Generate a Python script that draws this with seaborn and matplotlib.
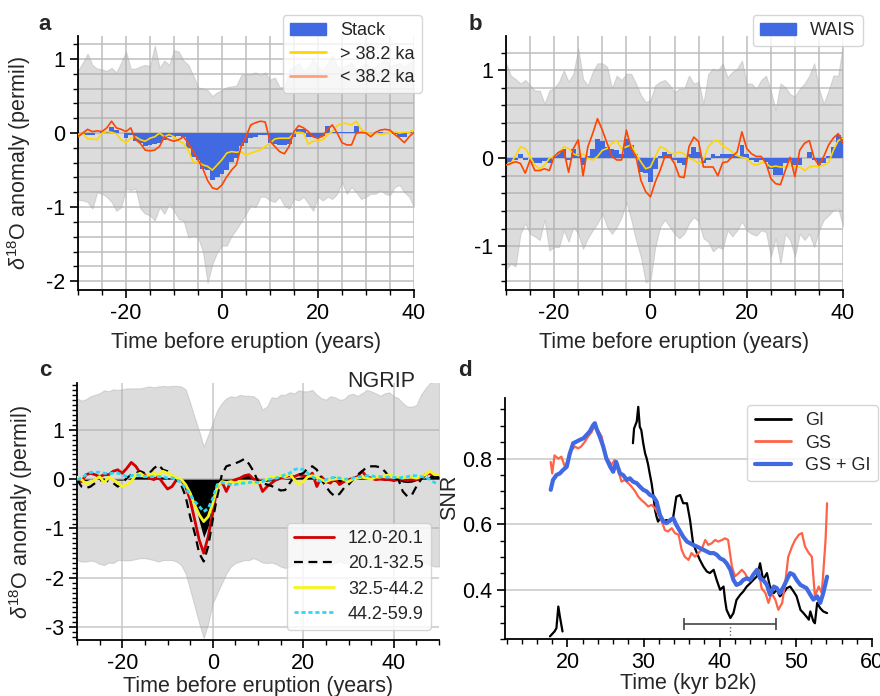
import numpy as np
import matplotlib
matplotlib.use('Agg')
import matplotlib.pyplot as plt
import seaborn as sns
from matplotlib.lines import Line2D
from matplotlib.patches import Patch
from matplotlib.ticker import MultipleLocator

# ---- data: panels a and b (years -30..40) ----
years_ab = list(range(-30, 41))

a_upper = [0.84, 0.95, 1.07, 0.92, 0.87, 0.86, 0.84, 0.88, 0.82, 0.95,
           1.1, 0.87, 0.87, 0.9, 0.92, 0.9, 1.18, 0.88, 0.98, 0.92,
           1.12, 1.1, 0.98, 0.92, 0.78, 0.62, 0.6, 0.58, 0.5, 0.55,
           0.58, 0.62, 0.63, 0.64, 0.78, 0.8, 0.79, 0.82, 0.78, 0.82,
           0.72, 0.75, 0.62, 0.62, 0.85, 0.9, 0.95, 0.85, 0.9, 1.0,
           0.9, 0.85, 0.95, 1.05, 0.9, 0.88, 0.92, 0.95, 0.85, 0.9,
           0.95, 0.88, 0.9, 0.95, 1.0, 0.9, 0.92, 0.95, 0.9, 0.95, 1.0]
a_lower = [-0.9, -0.91, -0.93, -1.02, -0.8, -0.82, -0.86, -0.93, -1.05, -1.0,
           -0.75, -0.77, -0.75, -1.02, -1.09, -1.11, -1.18, -1.0, -1.09, -0.95,
           -1.05, -1.16, -1.18, -1.41, -1.39, -1.41, -1.59, -2.02, -1.77, -1.61,
           -1.52, -1.52, -1.39, -1.3, -1.2, -1.09, -0.98, -1.0, -0.86, -0.86,
           -0.91, -0.93, -0.86, -0.98, -1.02, -0.89, -0.91, -0.86, -0.95, -1.05,
           -0.86, -0.91, -0.86, -0.89, -0.82, -0.66, -0.82, -0.73, -0.8, -0.89,
           -0.86, -0.82, -0.82, -0.77, -0.82, -0.84, -0.73, -0.7, -0.8, -0.86, -1.0]
a_stack = [-0.02, -0.01, -0.03, -0.03, 0.0, 0.01, 0.02, 0.08, 0.04, 0.0,
           -0.07, -0.02, -0.11, -0.14, -0.17, -0.16, -0.15, -0.13, -0.09, -0.06,
           -0.05, -0.04, -0.05, -0.2, -0.32, -0.36, -0.48, -0.5, -0.63, -0.6,
           -0.55, -0.5, -0.39, -0.34, -0.18, -0.14, -0.07, -0.05, -0.03, -0.02,
           -0.14, -0.15, -0.16, -0.16, -0.15, -0.06, 0.05, 0.05, -0.05, -0.05,
           -0.07, -0.04, 0.09, 0.01, 0.01, 0.01, 0.01, 0.01, 0.09, 0.02,
           0.01, 0.0, 0.0, 0.01, 0.0, 0.0, -0.01, -0.05, -0.05, 0.02, 0.0]
a_old = [-0.02, 0.0, -0.08, -0.08, -0.09, 0.0, 0.02, 0.01, -0.01, -0.09,
         -0.13, -0.07, -0.05, -0.09, -0.11, -0.07, -0.05, 0.0, -0.05, -0.02,
         -0.05, -0.11, -0.14, -0.23, -0.39, -0.39, -0.43, -0.45, -0.5, -0.43,
         -0.36, -0.27, -0.25, -0.26, -0.25, -0.3, -0.27, -0.25, -0.23, -0.18,
         -0.14, -0.08, -0.07, -0.07, -0.07, 0.0, 0.01, 0.0, -0.15, -0.11,
         -0.11, -0.09, -0.02, 0.02, 0.1, 0.13, 0.13, 0.11, 0.16, 0.05,
         0.01, -0.02, 0.0, -0.02, -0.01, 0.0, 0.02, 0.0, 0.01, 0.01, 0.05]
a_young = [-0.05, 0.0, 0.05, 0.02, 0.03, 0.02, 0.07, 0.16, 0.07, 0.05,
           0.02, 0.07, -0.09, -0.14, -0.23, -0.24, -0.23, -0.18, -0.05, -0.09,
           -0.11, -0.09, -0.05, -0.14, -0.25, -0.36, -0.48, -0.64, -0.74, -0.76,
           -0.7, -0.59, -0.5, -0.43, -0.18, -0.05, 0.11, 0.14, 0.16, 0.15,
           -0.11, -0.18, -0.25, -0.28, -0.18, 0.02, 0.1, 0.07, 0.02, -0.05,
           -0.07, -0.04, 0.05, 0.11, 0.0, -0.13, -0.16, -0.16, 0.0, 0.01,
           0.0, -0.05, 0.01, 0.04, 0.05, 0.04, -0.02, -0.07, -0.13, -0.05, 0.01]

b_upper = [1.08, 0.94, 0.9, 0.85, 0.89, 0.83, 0.77, 0.77, 0.62, 0.77,
           0.8, 0.87, 1.0, 0.87, 0.96, 1.25, 0.9, 0.83, 0.98, 1.08,
           1.08, 1.04, 0.8, 0.94, 0.89, 0.96, 0.96, 0.85, 0.72, 0.64,
           0.66, 0.83, 0.87, 0.89, 0.83, 0.75, 0.79, 0.79, 0.94, 0.85,
           0.87, 0.62, 0.96, 1.02, 1.0, 1.08, 0.92, 0.98, 1.02, 1.11,
           0.85, 0.85, 0.79, 0.89, 0.94, 0.77, 0.55, 0.85, 0.81, 0.73,
           0.7, 0.79, 0.85, 0.94, 1.08, 0.79, 0.62, 0.77, 0.94, 0.94, 1.3]
b_lower = [-1.27, -1.2, -1.23, -0.86, -0.74, -0.86, -0.89, -0.93, -0.7, -1.05,
           -1.01, -1.01, -0.82, -0.95, -0.78, -0.86, -1.03, -0.91, -0.82, -0.74,
           -0.63, -0.78, -0.86, -0.78, -0.67, -0.5, -0.7, -0.93, -1.12, -1.41,
           -1.39, -1.01, -0.78, -0.7, -0.78, -0.86, -0.91, -0.86, -0.74, -0.67,
           -0.72, -0.91, -0.95, -1.06, -1.01, -1.03, -0.82, -0.89, -0.82, -0.72,
           -0.82, -0.86, -0.88, -0.82, -0.84, -1.12, -0.91, -1.2, -0.86, -0.93,
           -1.12, -0.86, -0.93, -0.86, -1.01, -0.82, -0.7, -0.65, -0.59, -0.57, -0.78]
b_wais = [-0.06, -0.04, -0.02, 0.05, -0.02, 0.0, -0.06, -0.06, -0.03, -0.05,
          0.02, 0.07, 0.1, -0.02, 0.11, 0.05, -0.08, 0.02, 0.11, 0.22,
          0.2, 0.13, 0.1, 0.09, 0.05, 0.22, 0.15, 0.05, -0.16, -0.17,
          -0.27, -0.12, 0.02, 0.07, 0.05, -0.02, -0.06, -0.08, 0.05, 0.13,
          0.07, -0.06, -0.02, 0.05, 0.02, 0.05, 0.05, 0.05, 0.03, 0.15,
          0.05, -0.02, -0.04, -0.02, -0.04, -0.12, -0.19, -0.19, -0.06, -0.02,
          -0.08, -0.08, 0.0, 0.07, -0.02, -0.08, -0.06, 0.02, 0.13, 0.26, 0.24]
b_young = [-0.08, -0.06, -0.04, -0.06, -0.17, -0.02, -0.14, -0.14, -0.12, -0.14,
           0.02, 0.07, 0.09, -0.16, 0.11, 0.21, -0.2, 0.13, 0.28, 0.45,
           0.32, 0.17, 0.02, -0.02, -0.02, 0.32, 0.11, 0.02, -0.25, -0.38,
           -0.44, -0.27, -0.14, 0.02, 0.02, -0.06, -0.21, -0.22, 0.13, 0.24,
           0.19, -0.1, -0.1, -0.1, -0.2, -0.05, -0.04, 0.02, 0.07, 0.3,
           0.11, 0.05, 0.02, 0.02, -0.06, -0.23, -0.29, -0.3, -0.14, 0.01,
           -0.21, 0.09, 0.17, 0.2, 0.0, -0.08, 0.02, 0.15, 0.23, 0.28, 0.17]
b_old = [-0.08, -0.06, 0.03, 0.13, 0.11, 0.02, -0.08, -0.12, -0.08, 0.0,
         0.02, 0.06, 0.13, 0.11, 0.05, 0.03, 0.05, 0.0, -0.02, 0.02,
         0.09, 0.11, 0.17, 0.2, 0.11, 0.13, 0.15, 0.05, -0.04, -0.12,
         -0.1, 0.02, 0.13, 0.11, 0.06, 0.05, 0.07, 0.05, 0.0, -0.02,
         -0.06, -0.02, 0.13, 0.19, 0.2, 0.14, 0.11, 0.07, 0.03, 0.01,
         0.0, -0.06, -0.08, -0.05, -0.06, -0.1, -0.09, -0.1, -0.1, -0.08,
         -0.1, -0.1, -0.14, -0.1, -0.09, -0.09, -0.08, -0.05, 0.09, 0.2, 0.23]

# ---- data: panel c, NGRIP (years -30..50) ----
years_c = list(range(-30, 51))
c_upper = [1.64, 1.59, 1.62, 1.68, 1.71, 1.74, 1.8, 1.78, 1.82, 1.81,
           1.82, 1.84, 1.84, 1.84, 1.84, 1.86, 1.88, 1.86, 1.88, 1.89,
           1.88, 1.89, 1.89, 1.88, 1.82, 1.55, 1.25, 0.97, 0.66, 0.9,
           1.15, 1.4, 1.54, 1.64, 1.68, 1.66, 1.71, 1.69, 1.69, 1.68,
           1.61, 1.41, 1.47, 1.66, 1.64, 1.71, 1.71, 1.76, 1.74, 1.8,
           1.78, 1.78, 1.81, 1.71, 1.64, 1.61, 1.68, 1.66, 1.61, 1.62,
           1.71, 1.73, 1.69, 1.74, 1.81, 1.78, 1.74, 1.69, 1.74, 1.76,
           1.68, 1.64, 1.54, 1.47, 1.47, 1.5, 1.71, 1.84, 1.95, 1.98, 1.98]
c_lower = [-1.64, -1.67, -1.67, -1.65, -1.67, -1.72, -1.74, -1.69, -1.7, -1.64,
           -1.64, -1.65, -1.64, -1.62, -1.6, -1.6, -1.62, -1.64, -1.67, -1.64,
           -1.64, -1.64, -1.67, -1.74, -1.91, -2.24, -2.58, -2.92, -3.22, -2.92,
           -2.51, -2.31, -2.11, -1.91, -1.77, -1.7, -1.67, -1.64, -1.64, -1.6,
           -1.64, -1.69, -1.7, -1.69, -1.72, -1.77, -1.8, -1.77, -1.74, -1.72,
           -1.7, -1.73, -1.75, -1.7, -1.68, -1.72, -1.75, -1.7, -1.66, -1.7,
           -1.72, -1.68, -1.7, -1.74, -1.7, -1.68, -1.72, -1.75, -1.7, -1.68,
           -1.7, -1.73, -1.7, -1.68, -1.72, -1.75, -1.72, -1.7, -1.74, -1.77, -1.77]
c_stack = [-0.02, -0.03, -0.03, 0.0, 0.02, 0.02, 0.01, 0.0, 0.0, -0.02,
           -0.02, 0.0, 0.03, 0.05, 0.05, 0.04, 0.05, 0.05, 0.06, 0.04,
           0.03, 0.02, -0.02, -0.05, -0.12, -0.3, -0.5, -0.85, -1.18, -0.95,
           -0.45, -0.1, -0.02, -0.04, -0.04, -0.03, 0.02, 0.07, 0.08, 0.02,
           -0.02, -0.05, -0.04, -0.03, -0.02, 0.0, 0.01, 0.02, 0.02, 0.04,
           0.05, 0.06, 0.04, 0.0, -0.01, -0.02, -0.03, -0.05, -0.08, -0.05,
           -0.02, 0.0, 0.02, 0.03, 0.05, 0.04, 0.03, 0.02, 0.0, 0.0,
           -0.02, -0.03, -0.06, -0.07, -0.06, -0.03, 0.0, 0.03, 0.05, 0.06, 0.06]
c_12_20 = [-0.01, -0.05, 0.09, 0.12, 0.09, 0.05, 0.09, 0.09, 0.16, 0.19,
           0.12, 0.22, 0.34, 0.26, 0.12, 0.09, 0.02, -0.01, 0.05, -0.08,
           -0.2, -0.15, -0.01, -0.01, -0.15, -0.42, -0.82, -1.23, -1.5, -1.16,
           -0.69, -0.15, -0.05, -0.25, -0.05, -0.01, 0.02, 0.07, 0.09, 0.0,
           -0.01, -0.25, -0.15, -0.08, -0.01, 0.02, 0.05, 0.07, 0.05, 0.09,
           0.07, 0.05, 0.12, -0.15, 0.05, -0.05, -0.08, 0.02, -0.11, -0.05,
           -0.01, 0.02, 0.05, 0.16, 0.05, 0.02, -0.01, 0.0, -0.01, -0.01,
           -0.03, -0.01, 0.0, -0.03, -0.01, -0.01, 0.02, 0.09, 0.12, 0.05, 0.07]
c_20_32 = [-0.01, -0.15, -0.18, -0.15, -0.08, -0.03, -0.01, -0.05, -0.08, -0.15,
           -0.08, 0.02, 0.09, 0.12, 0.16, 0.12, 0.12, 0.22, 0.29, 0.19,
           0.16, 0.09, -0.01, -0.11, -0.35, -0.76, -1.09, -1.5, -1.67, -1.36,
           -0.82, -0.35, 0.09, 0.26, 0.29, 0.32, 0.36, 0.41, 0.31, 0.16,
           -0.05, -0.08, -0.11, -0.14, -0.18, -0.23, -0.22, -0.08, 0.05, 0.09,
           0.12, 0.22, 0.26, 0.19, -0.01, -0.15, -0.27, -0.35, -0.3, -0.18,
           -0.11, -0.01, 0.09, 0.16, 0.24, 0.26, 0.26, 0.24, 0.16, 0.05,
           0.02, 0.0, -0.25, -0.35, -0.32, -0.15, -0.01, 0.09, 0.05, 0.05, 0.05]
c_32_44 = [0.04, -0.01, -0.09, -0.07, -0.01, 0.05, -0.07, 0.04, -0.01, -0.08,
           -0.15, -0.11, -0.05, 0.09, 0.12, 0.05, 0.09, 0.12, 0.09, 0.16,
           0.12, 0.09, 0.02, 0.0, -0.11, -0.28, -0.52, -0.72, -0.86, -0.76,
           -0.49, -0.15, -0.05, -0.07, -0.05, -0.08, -0.05, -0.05, -0.07, -0.08,
           -0.08, -0.05, 0.0, 0.05, 0.05, 0.07, 0.05, 0.11, -0.01, -0.11,
           -0.05, 0.05, 0.07, 0.04, -0.01, -0.05, -0.01, 0.0, 0.02, -0.01,
           -0.05, 0.0, 0.02, 0.04, 0.02, 0.0, 0.04, 0.04, 0.07, 0.09,
           0.05, 0.04, 0.02, 0.05, 0.04, 0.02, 0.05, 0.09, 0.16, 0.09, 0.09]
c_44_60 = [-0.01, 0.02, 0.09, 0.14, 0.14, 0.14, 0.12, 0.11, 0.12, 0.12,
           0.09, 0.05, 0.07, 0.09, 0.07, 0.05, 0.05, 0.05, 0.05, 0.05,
           0.02, 0.02, 0.0, -0.08, -0.18, -0.32, -0.45, -0.55, -0.66, -0.59,
           -0.39, -0.11, -0.07, -0.09, -0.11, -0.11, -0.09, -0.08, -0.07, -0.05,
           -0.07, -0.05, -0.01, 0.0, 0.02, 0.05, 0.09, 0.12, 0.19, 0.22,
           0.19, 0.12, 0.05, -0.01, -0.05, -0.01, 0.02, 0.04, 0.02, 0.0,
           0.0, 0.02, 0.04, 0.05, 0.07, 0.07, 0.05, 0.05, 0.04, 0.04,
           0.04, 0.02, 0.04, 0.05, 0.07, 0.07, 0.05, 0.04, -0.01, -0.07, -0.08]

# ---- data: panel d, SNR vs time ----
gs_gi_kyr = [17.8, 18.1, 18.55, 19.0, 19.4, 19.9, 20.3, 20.75, 21.2, 21.6,
             22.1, 22.5, 22.9, 23.4, 23.6, 23.8, 24.25, 24.7, 25.1, 25.6,
             26.0, 26.4, 26.9, 27.3, 27.8, 28.2, 28.6, 29.1, 29.5, 29.95,
             30.4, 30.8, 31.3, 31.7, 32.15, 32.6, 33.0, 33.5, 33.9, 34.3,
             34.8, 35.2, 35.7, 36.1, 36.5, 37.0, 37.4, 37.85, 38.3, 38.7,
             39.2, 39.6, 40.05, 40.5, 40.9, 41.4, 41.8, 42.2, 42.7, 43.1,
             43.55, 44.0, 44.4, 44.9, 45.3, 45.7, 46.2, 46.6, 47.1, 47.5,
             47.9, 48.4, 48.8, 49.25, 49.7, 50.1, 50.6, 51.0, 51.4, 51.9,
             52.3, 52.8, 53.2, 53.6, 54.1]
gs_gi_snr = [0.705, 0.735, 0.75, 0.755, 0.765, 0.775, 0.815, 0.847, 0.852, 0.857,
             0.862, 0.872, 0.882, 0.903, 0.908, 0.892, 0.867, 0.837, 0.801, 0.776,
             0.76, 0.79, 0.755, 0.75, 0.735, 0.74, 0.73, 0.725, 0.715, 0.705,
             0.7, 0.69, 0.684, 0.669, 0.628, 0.608, 0.603, 0.613, 0.618, 0.598,
             0.578, 0.562, 0.547, 0.542, 0.537, 0.532, 0.527, 0.522, 0.517, 0.512,
             0.512, 0.507, 0.496, 0.491, 0.481, 0.461, 0.43, 0.415, 0.42, 0.43,
             0.435, 0.43, 0.446, 0.461, 0.435, 0.43, 0.415, 0.385, 0.41, 0.405,
             0.39, 0.41, 0.43, 0.451, 0.446, 0.43, 0.415, 0.41, 0.405, 0.385,
             0.37, 0.38, 0.36, 0.39, 0.44]
gs_kyr = [17.8, 18.0, 18.3, 18.8, 19.2, 19.65, 20.1, 20.5, 21.0, 21.4,
          21.8, 22.3, 22.7, 23.2, 23.6, 24.0, 24.5, 24.9, 25.35, 25.8,
          26.2, 26.7, 27.1, 27.5, 28.0, 28.4, 28.9, 29.3, 29.7, 30.2,
          30.6, 31.05, 31.5, 31.9, 32.4, 32.8, 33.2, 33.7, 34.1, 34.6,
          35.0, 35.4, 35.9, 36.3, 36.75, 37.2, 37.6, 38.1, 38.5, 38.95,
          39.4, 39.8, 40.3, 40.7, 41.1, 41.6, 42.0, 42.5, 42.9, 43.3,
          43.8, 44.2, 44.65, 45.1, 45.5, 46.0, 46.4, 46.8, 47.3, 47.7,
          48.2, 48.6, 49.0, 49.5, 49.9, 50.4, 50.8, 51.2, 51.7, 52.1,
          52.5, 53.0, 53.4, 53.6, 53.9, 54.1]
gs_snr = [0.79, 0.755, 0.81, 0.8, 0.806, 0.776, 0.796, 0.826, 0.837, 0.831,
          0.837, 0.852, 0.867, 0.882, 0.903, 0.887, 0.867, 0.816, 0.796, 0.781,
          0.796, 0.76, 0.73, 0.735, 0.725, 0.715, 0.7, 0.684, 0.674, 0.664,
          0.654, 0.659, 0.649, 0.633, 0.608, 0.582, 0.578, 0.588, 0.573, 0.568,
          0.522, 0.501, 0.491, 0.512, 0.501, 0.512, 0.522, 0.552, 0.537, 0.542,
          0.552, 0.547, 0.552, 0.557, 0.552, 0.471, 0.441, 0.451, 0.461, 0.451,
          0.43, 0.441, 0.451, 0.461, 0.405, 0.39, 0.36, 0.39, 0.37, 0.339,
          0.36, 0.42, 0.501, 0.532, 0.552, 0.568, 0.573, 0.532, 0.512, 0.501,
          0.38, 0.41, 0.39, 0.451, 0.552, 0.664]
gi_kyr_early = [17.7, 18.1, 18.3, 18.55, 18.8, 19.0, 19.35]
gi_snr_early = [0.258, 0.268, 0.273, 0.283, 0.349, 0.319, 0.273]
gi_kyr = [28.6, 28.75, 29.1, 29.3, 29.5, 29.7, 29.95, 30.2, 30.4, 30.6,
          30.8, 31.05, 31.3, 31.5, 31.7, 31.9, 32.15, 32.4, 32.6, 33.0,
          33.5, 33.9, 34.3, 34.8, 35.2, 35.7, 36.1, 36.5, 37.0, 37.4,
          37.85, 38.3, 38.7, 39.2, 39.6, 40.05, 40.5, 40.7, 40.9, 41.4,
          41.8, 42.2, 42.7, 43.1, 43.55, 44.0, 44.4, 44.9, 45.3, 45.7,
          46.2, 46.6, 47.1, 47.5, 47.9, 48.4, 48.8, 49.25, 49.7, 50.1,
          50.6, 51.0, 51.4, 51.7, 51.9, 52.3, 52.5, 52.8, 53.2, 53.6, 54.1]
gi_snr = [0.847, 0.892, 0.913, 0.958, 0.897, 0.887, 0.847, 0.816, 0.801, 0.781,
          0.755, 0.725, 0.684, 0.644, 0.623, 0.608, 0.618, 0.613, 0.608, 0.613,
          0.608, 0.623, 0.684, 0.689, 0.664, 0.664, 0.613, 0.542, 0.512, 0.491,
          0.471, 0.456, 0.451, 0.461, 0.43, 0.4, 0.41, 0.369, 0.339, 0.314,
          0.329, 0.369, 0.385, 0.395, 0.41, 0.42, 0.43, 0.441, 0.481, 0.43,
          0.451, 0.41, 0.39, 0.4, 0.38, 0.39, 0.405, 0.41, 0.395, 0.38,
          0.339, 0.329, 0.318, 0.309, 0.334, 0.304, 0.298, 0.36, 0.344, 0.334, 0.329]
err_center = 41.4
err_half = 6.05
err_level = 0.296

# ---- style ----
sns.set_theme(style='ticks')
plt.rcParams['font.family'] = ['Liberation Sans', 'DejaVu Sans']
plt.rcParams['axes.unicode_minus'] = False
plt.rcParams['mathtext.fontset'] = 'custom'
plt.rcParams['mathtext.rm'] = 'Liberation Sans'
plt.rcParams['mathtext.it'] = 'Liberation Sans:italic'

BAND = '#a9a9a9'
GRID = '#bdbdbd'
FS = 15.5
ylab = r'$\delta^{18}$O anomaly (permil)'
xlab = 'Time before eruption (years)'


def style_axes(ax):
    sns.despine(ax=ax)
    for s in ['left', 'bottom']:
        ax.spines[s].set_color('black')
        ax.spines[s].set_linewidth(1.3)
    ax.tick_params(which='major', direction='out', length=6, width=1.2,
                   labelsize=FS, color='black', labelcolor='black')
    ax.tick_params(which='minor', direction='out', length=3.5, width=1.0,
                   color='black')


fig = plt.figure(figsize=(8.8, 6.96), dpi=100)
ax_a = fig.add_axes([0.0886, 0.5833, 0.3818, 0.3649])
ax_b = fig.add_axes([0.575, 0.5833, 0.383, 0.3649])
ax_c = fig.add_axes([0.0875, 0.0805, 0.4114, 0.3693])
ax_d = fig.add_axes([0.5739, 0.0819, 0.417, 0.3463])

# ---- panel a ----
ax = ax_a
ax.fill_between(years_ab, a_lower, a_upper, color=BAND, alpha=0.4, lw=0.8, zorder=1)
ax.bar(years_ab, a_stack, width=1.0, color='royalblue', lw=0, zorder=2)
sns.lineplot(x=years_ab, y=a_old, color='gold', lw=1.2, ax=ax, zorder=3)
sns.lineplot(x=years_ab, y=a_young, color='orangered', lw=1.2, ax=ax, zorder=3)
ax.set_xlim(-30, 40)
ax.set_ylim(-2.12, 1.31)
ax.xaxis.set_major_locator(MultipleLocator(20))
ax.xaxis.set_minor_locator(MultipleLocator(5))
ax.yaxis.set_major_locator(MultipleLocator(1))
ax.yaxis.set_minor_locator(MultipleLocator(0.2))
ax.grid(True, which='both', color=GRID, lw=1.1)
style_axes(ax)
ax.set_xlabel(xlab, fontsize=FS)
ax.set_ylabel(ylab, fontsize=FS)
ax.xaxis.set_label_coords(0.5, -0.165)
ax.yaxis.set_label_coords(-0.134, 0.5)
handles = [Patch(color='royalblue', label='Stack'),
           Line2D([], [], color='gold', lw=2, label='> 38.2 ka'),
           Line2D([], [], color='lightsalmon', lw=2, label='< 38.2 ka')]
ax.legend(handles=handles, loc='upper right', bbox_to_anchor=(1.024, 1.083),
          borderaxespad=0, fontsize=13, framealpha=0.8, edgecolor='#cccccc',
          handlelength=2.0, labelspacing=0.35)

# ---- panel b ----
ax = ax_b
ax.fill_between(years_ab, b_lower, b_upper, color=BAND, alpha=0.4, lw=0.8, zorder=1)
ax.bar(years_ab, b_wais, width=1.0, color='royalblue', lw=0, zorder=2)
sns.lineplot(x=years_ab, y=b_old, color='gold', lw=1.2, ax=ax, zorder=3)
sns.lineplot(x=years_ab, y=b_young, color='orangered', lw=1.2, ax=ax, zorder=3)
ax.set_xlim(-30, 40)
ax.set_ylim(-1.5, 1.39)
ax.xaxis.set_major_locator(MultipleLocator(20))
ax.xaxis.set_minor_locator(MultipleLocator(5))
ax.yaxis.set_major_locator(MultipleLocator(1))
ax.yaxis.set_minor_locator(MultipleLocator(0.2))
ax.grid(True, which='both', color=GRID, lw=1.1)
style_axes(ax)
ax.set_xlabel(xlab, fontsize=FS)
ax.set_ylabel('')
ax.xaxis.set_label_coords(0.5, -0.165)
ax.legend(handles=[Patch(color='royalblue', label='WAIS')], loc='upper right',
          bbox_to_anchor=(1.059, 1.083), borderaxespad=0, fontsize=13,
          framealpha=0.8, edgecolor='#cccccc', handlelength=2.0)

# ---- panel c ----
ax = ax_c
ax.fill_between(years_c, c_lower, c_upper, color=BAND, alpha=0.4, lw=0.8, zorder=1)
ax.fill_between(years_c, 0, c_stack, color='black', lw=0, zorder=2)
sns.lineplot(x=years_c, y=c_12_20, color='#d40000', lw=2, ax=ax, zorder=3)
sns.lineplot(x=years_c, y=c_20_32, color='black', lw=1.6, ax=ax, zorder=3)
ax.lines[-1].set_dashes((4, 2.5))
sns.lineplot(x=years_c, y=c_32_44, color='#f5f51e', lw=2, ax=ax, zorder=3)
sns.lineplot(x=years_c, y=c_44_60, color='#2ed8f5', lw=2, ax=ax, zorder=3)
ax.lines[-1].set_dashes((1.5, 1))
ax.set_xlim(-30, 50)
ax.set_ylim(-3.26, 1.95)
ax.xaxis.set_major_locator(MultipleLocator(20))
ax.xaxis.set_minor_locator(MultipleLocator(5))
ax.yaxis.set_major_locator(MultipleLocator(1))
ax.yaxis.set_minor_locator(MultipleLocator(0.1))
ax.grid(True, which='major', color='#c8c8c8', lw=1.1)
style_axes(ax)
ax.set_xlabel(xlab, fontsize=FS)
ax.set_ylabel(ylab, fontsize=FS)
ax.xaxis.set_label_coords(0.5, -0.14)
ax.yaxis.set_label_coords(-0.116, 0.5)
ax.text(0.934, 1.004, 'NGRIP', transform=ax.transAxes, ha='right', va='center',
        fontsize=FS)
handles = [Line2D([], [], color='#d40000', lw=2, label='12.0-20.1'),
           Line2D([], [], color='black', lw=1.6, dashes=(4, 2.5), label='20.1-32.5'),
           Line2D([], [], color='#f5f51e', lw=2, label='32.5-44.2'),
           Line2D([], [], color='#2ed8f5', lw=2, dashes=(1.5, 1), label='44.2-59.9')]
ax.legend(handles=handles, loc='lower right', bbox_to_anchor=(0.978, 0.039),
          borderaxespad=0, fontsize=13, framealpha=0.8, edgecolor='#cccccc',
          handlelength=2.2, labelspacing=0.45)

# ---- panel d ----
ax = ax_d
sns.lineplot(x=gi_kyr_early, y=gi_snr_early, color='black', lw=1.6, ax=ax, zorder=3)
sns.lineplot(x=gi_kyr, y=gi_snr, color='black', lw=1.6, ax=ax, zorder=3)
sns.lineplot(x=gs_kyr, y=gs_snr, color='tomato', lw=1.6, ax=ax, zorder=3)
sns.lineplot(x=gs_gi_kyr, y=gs_gi_snr, color='royalblue', lw=3, ax=ax, zorder=4)
ax.errorbar(err_center, err_level, xerr=err_half, color='#444444', lw=1.2,
            capsize=4, capthick=1.2, zorder=2)
ax.plot([err_center, err_center], [0.25, err_level], color='#666666', lw=1,
        ls=':', zorder=2)
ax.set_xlim(11.8, 60)
ax.set_ylim(0.25, 0.985)
ax.xaxis.set_major_locator(MultipleLocator(10))
ax.xaxis.set_minor_locator(MultipleLocator(2))
ax.yaxis.set_major_locator(MultipleLocator(0.2))
ax.yaxis.set_minor_locator(MultipleLocator(0.05))
ax.grid(True, axis='y', which='major', color='#c8c8c8', lw=1.1)
style_axes(ax)
ax.set_xlabel('Time (kyr b2k)', fontsize=FS)
ax.set_ylabel('SNR', fontsize=FS)
ax.xaxis.set_label_coords(0.5, -0.141)
ax.yaxis.set_label_coords(-0.123, 0.589)
handles = [Line2D([], [], color='black', lw=2, label='GI'),
           Line2D([], [], color='tomato', lw=2, label='GS'),
           Line2D([], [], color='royalblue', lw=3, label='GS + GI')]
ax.legend(handles=handles, loc='upper right', bbox_to_anchor=(1.016, 0.971),
          borderaxespad=0, fontsize=13, framealpha=0.8, edgecolor='#cccccc',
          handlelength=2.0, labelspacing=0.3)

# ---- panel letters ----
for letter, (px, py) in zip('abcd', [(0.051, 0.9655), (0.54, 0.9655),
                                     (0.051, 0.468), (0.528, 0.468)]):
    fig.text(px, py, letter, fontsize=16, fontweight='bold', ha='center', va='center')

fig.savefig('out.png', dpi=100)
